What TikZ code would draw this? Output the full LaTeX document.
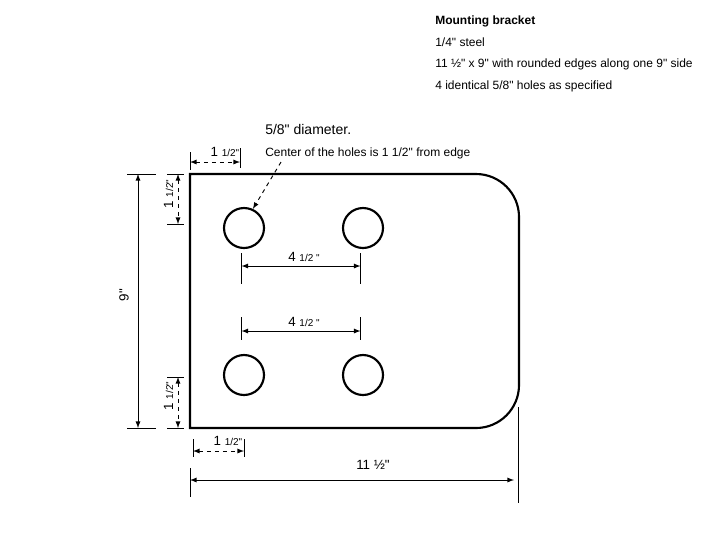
\documentclass[tikz,border=0pt]{standalone}
\usepackage{fontspec}
\newfontfamily\platefont{Liberation Sans}
\usetikzlibrary{positioning}
\newcommand{\smallpart}[1]{{\fontsize{7.5}{9}\selectfont #1}}
\newcommand{\onehalf}{1 \smallpart{1/2"}}
\tikzset{
  plate/.style={line width=1.6pt},
  hole/.style={draw, circle, line width=1.6pt, minimum size=30pt, inner sep=0pt},
  extline/.style={line width=0.7pt},
  dimline/.style={line width=0.7pt, <->, >=latex},
  dimdash/.style={dimline, dashed},
  textline/.style={anchor=west, inner sep=0pt, font=\platefont\fontsize{9}{10}\selectfont},
  dimlabel/.style={inner sep=0pt, font=\platefont\fontsize{10}{11}\selectfont}
}
\begin{document}
\begin{tikzpicture}[x=0.75pt, y=-0.75pt]
  \useasboundingbox (0,0) rectangle (720,540);

  % heading
  \node (title) [textline, font=\platefont\fontsize{9}{10}\selectfont\bfseries] at (435,21) {Mounting bracket};
  \node (steel) [textline] at (435,42.5) {1/4" steel};
  \node (size) [textline] at (435,64) {11 ½" x 9" with rounded edges along one 9" side};
  \node (count) [textline] at (435,86) {4 identical 5/8" holes as specified};

  % plate
  \draw [plate] (190,174) -- (476,174) arc (-90:0:43) -- (519,385) arc (0:90:43) -- (190,428) -- cycle;

  \foreach \x/\y/\name in {244/228/holeA, 363/228/holeB, 244/375/holeC, 363/375/holeD} {
    \node (\name) [hole] at (\x,\y) {};
  }

  % notes
  \node (diameter) [textline, font=\platefont\fontsize{10.5}{12}\selectfont] at (265,129) {5/8" diameter.};
  \node (center) [textline] at (265,153) {Center of the holes is 1 1/2" from edge};
  \coordinate (leader) at (281,162);
  \draw [dashed, line width=0.7pt, ->, >=latex] (leader) -- (holeA.65);

  % 1 1/2 top
  \coordinate (ta1) at (190,152);
  \coordinate (ta2) at (190,170);
  \coordinate (tb1) at (240,148);
  \coordinate (tb2) at (240,168);
  \coordinate (ta) at (190,162);
  \coordinate (tb) at (240,162);
  \draw [extline] (ta1) -- (ta2);
  \draw [extline] (tb1) -- (tb2);
  \draw [dimdash] (ta) -- (tb);
  \node (toplabel) [dimlabel] at (225,152) {\onehalf};

  % 1 1/2 upper left
  \coordinate (la1) at (167,174);
  \coordinate (la2) at (184,174);
  \coordinate (lb1) at (167,224);
  \coordinate (lb2) at (184,224);
  \coordinate (la) at (178,174);
  \coordinate (lb) at (178,224);
  \draw [extline] (la1) -- (la2);
  \draw [extline] (lb1) -- (lb2);
  \draw [dimdash] (la) -- (lb);
  \node (leftlabel) [dimlabel, rotate=90] at (168.5,194) {\onehalf};

  % 1 1/2 lower left
  \coordinate (lc1) at (167,377);
  \coordinate (lc2) at (184,377);
  \coordinate (ld1) at (167,428);
  \coordinate (ld2) at (184,428);
  \coordinate (lc) at (178,377);
  \coordinate (ld) at (178,428);
  \draw [extline] (lc1) -- (lc2);
  \draw [extline] (ld1) -- (ld2);
  \draw [dimdash] (lc) -- (ld);
  \node (lowlabel) [dimlabel, rotate=90] at (168.5,396) {\onehalf};

  % 1 1/2 bottom
  \coordinate (ba1) at (193,439);
  \coordinate (ba2) at (193,457);
  \coordinate (bb1) at (244,439);
  \coordinate (bb2) at (244,457);
  \coordinate (ba) at (193,451);
  \coordinate (bb) at (244,451);
  \draw [extline] (ba1) -- (ba2);
  \draw [extline] (bb1) -- (bb2);
  \draw [dimdash] (ba) -- (bb);
  \node (botlabel) [dimlabel] at (228,441) {\onehalf};

  % 9
  \coordinate (ha1) at (127,174);
  \coordinate (ha2) at (156,174);
  \coordinate (hb1) at (127,428);
  \coordinate (hb2) at (156,428);
  \coordinate (ha) at (138,174);
  \coordinate (hb) at (138,428);
  \draw [extline] (ha1) -- (ha2);
  \draw [extline] (hb1) -- (hb2);
  \draw [dimline] (ha) -- (hb);
  \node (heightlabel) [dimlabel, rotate=90] at (124,295) {9"};

  % 11 1/2
  \coordinate (wa1) at (190,468);
  \coordinate (wa2) at (190,497);
  \coordinate (wb1) at (518,407);
  \coordinate (wb2) at (518,503);
  \coordinate (wa) at (190,480);
  \coordinate (wb) at (514,480);
  \draw [extline] (wa1) -- (wa2);
  \draw [extline] (wb1) -- (wb2);
  \draw [dimline] (wa) -- (wb);
  \node (widthlabel) [dimlabel] at (373,465) {11 ½"};

  % 4 1/2 pair
  \foreach \top/\bot/\mid/\lab/\name in {253/284/266/257/upper, 317/340/331/322/lower} {
    \coordinate (\name a1) at (241.5,\top);
    \coordinate (\name a2) at (241.5,\bot);
    \coordinate (\name b1) at (360.5,\top);
    \coordinate (\name b2) at (360.5,\bot);
    \coordinate (\name a) at (241.5,\mid);
    \coordinate (\name b) at (360.5,\mid);
    \draw [extline] (\name a1) -- (\name a2);
    \draw [extline] (\name b1) -- (\name b2);
    \draw [dimline] (\name a) -- (\name b);
    \node (\name label) [dimlabel] at (304,\lab) {4 \smallpart{1/2 "}};
  }
\end{tikzpicture}
\end{document}
